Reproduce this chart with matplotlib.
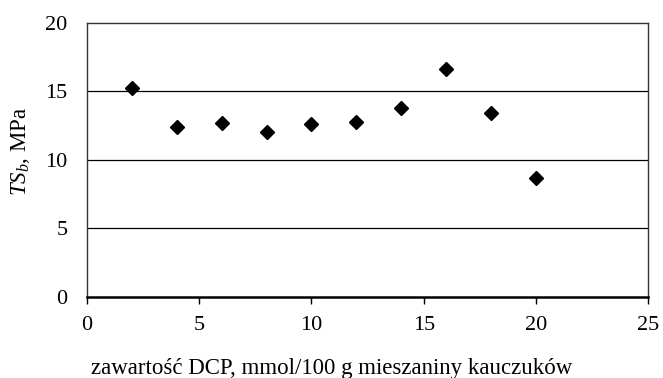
import matplotlib
matplotlib.use("Agg")
import matplotlib.pyplot as plt

x_vals = [2, 4, 6, 8, 10, 12, 14, 16, 18, 20]
ts_vals = [15.25, 12.36, 12.7, 12.0, 12.58, 12.73, 13.77, 16.6, 13.43, 8.64]
x_ticks = [0, 5, 10, 15, 20, 25]
y_ticks = [0, 5, 10, 15, 20]

plt.rcParams['font.family'] = ['Liberation Serif', 'DejaVu Serif']
plt.rcParams['mathtext.fontset'] = 'custom'
plt.rcParams['mathtext.rm'] = 'Liberation Serif'
plt.rcParams['mathtext.it'] = 'Liberation Serif:italic'

fig = plt.figure(figsize=(6.63, 3.78), dpi=100)
ax = fig.add_axes([0.131, 0.215, 0.847, 0.725])

for y in y_ticks[1:-1]:
    ax.axhline(y, color='black', lw=0.9, zorder=1)

ax.plot(x_vals, ts_vals, linestyle='none', marker='D', markersize=7,
        color='black', zorder=3)

ax.set_xlim(0, 25)
ax.set_ylim(0, 20)
ax.set_xticks(x_ticks)
ax.set_yticks(y_ticks)
ax.tick_params(axis='x', direction='out', length=5, width=1, labelsize=16, pad=9)
ax.tick_params(axis='y', length=0, labelsize=16, pad=14)

for s in ['top', 'right', 'left']:
    ax.spines[s].set_color('#333333')
    ax.spines[s].set_linewidth(1.0)
ax.spines['bottom'].set_linewidth(1.8)
ax.spines['bottom'].set_color('black')

ax.set_xlabel('zawartość DCP, mmol/100 g mieszaniny kauczuków', fontsize=16.5)
ax.xaxis.set_label_coords(0.435, -0.225)
ax.set_ylabel(r'$TS_b$, MPa', fontsize=16.5)
ax.yaxis.set_label_coords(-0.098, 0.53)

fig.savefig('out.png', dpi=100)
